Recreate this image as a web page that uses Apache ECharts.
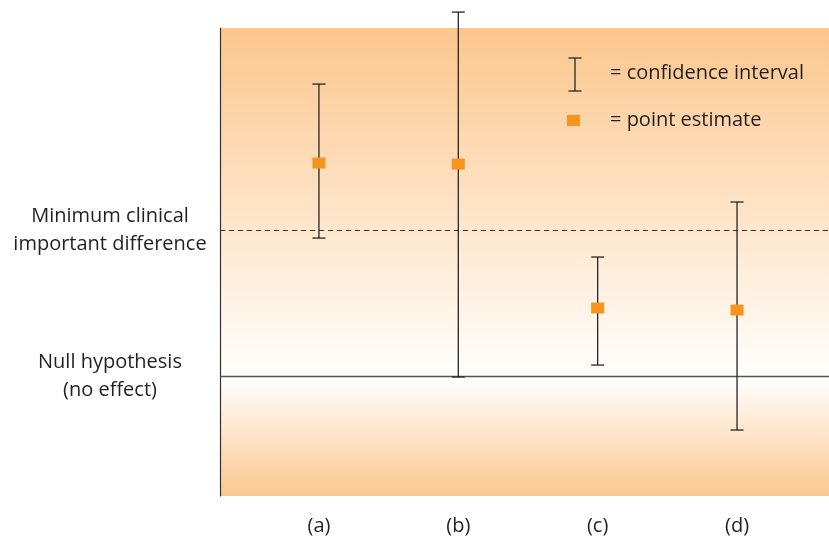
<!DOCTYPE html>
<html><head><meta charset="utf-8">
<script src="https://cdn.jsdelivr.net/npm/echarts@6/dist/echarts.min.js"></script>
<style>html,body{margin:0;padding:0;background:#fff}#c{width:829px;height:541px}</style>
</head><body><div id="c"></div>
<script>
// Data (units: minimum clinically important difference = 1, null = 0)
const categories = ['(a)', '(b)', '(c)', '(d)'];
const catPos = [1, 2, 3, 4];
const pointEstimate = [1.459, 1.452, 0.466, 0.452];
const ciLower = [0.945, -0.007, 0.075, -0.370];
const ciUpper = [2.000, 2.493, 0.815, 1.192];
const mcidValue = 1;
const nullValue = 0;
const refLabels = ['Minimum clinical\nimportant difference', 'Null hypothesis\n(no effect)'];
const legendTexts = ['= confidence interval', '= point estimate'];

const yMin = -0.822, yMax = 2.384;
const FONT = '"Open Sans", "Noto Sans", sans-serif';
const textColor = '#231f20';

const seriesData = catPos.map((x, i) => [x, pointEstimate[i], ciLower[i], ciUpper[i]]);

const chart = echarts.init(document.getElementById('c'), null, {renderer: 'canvas'});
const nullOffset = (yMax - nullValue) / (yMax - yMin);

chart.setOption({
  animation: false,
  grid: {
    left: 220, right: 0, top: 28, bottom: 45, show: true, borderWidth: 0,
    backgroundColor: {
      type: 'linear', x: 0, y: 0, x2: 0, y2: 1,
      colorStops: [
        {offset: 0, color: '#fcc68d'},
        {offset: nullOffset - 0.01, color: '#fffefb'},
        {offset: nullOffset, color: '#ffffff'},
        {offset: 1, color: '#fcc790'}
      ]
    }
  },
  xAxis: {
    type: 'value', min: 0.29, max: 4.66,
    axisLine: {show: false}, axisTick: {show: false}, splitLine: {show: false},
    axisLabel: {
      customValues: catPos,
      formatter: v => categories[catPos.indexOf(v)] || '',
      color: textColor, fontSize: 20, fontFamily: FONT, margin: 20
    }
  },
  yAxis: {
    type: 'value', min: yMin, max: yMax,
    axisLine: {show: true, lineStyle: {color: '#333', width: 1.2}},
    axisTick: {show: false}, splitLine: {show: false},
    axisLabel: {
      customValues: [mcidValue, nullValue],
      formatter: v => v === mcidValue ? refLabels[0] : refLabels[1],
      color: textColor, fontSize: 20, fontFamily: FONT,
      align: 'center', verticalAlign: 'middle', lineHeight: 28, margin: 110
    }
  },
  series: [{
    type: 'custom',
    clip: false,
    data: seriesData,
    renderItem: (params, api) => {
      const x = api.value(0);
      const pt = api.coord([x, api.value(1)]);
      const lo = api.coord([x, api.value(2)]);
      const hi = api.coord([x, api.value(3)]);
      const cap = 6.5;
      const ls = {stroke: '#262626', lineWidth: 1.3};
      return {
        type: 'group',
        children: [
          {type: 'line', shape: {x1: lo[0], y1: lo[1], x2: hi[0], y2: hi[1]}, style: ls},
          {type: 'line', shape: {x1: hi[0] - cap, y1: hi[1], x2: hi[0] + cap, y2: hi[1]}, style: ls},
          {type: 'line', shape: {x1: lo[0] - cap, y1: lo[1], x2: lo[0] + cap, y2: lo[1]}, style: ls},
          {type: 'rect', shape: {x: pt[0] - 6.5, y: pt[1] - 5.5, width: 13, height: 11}, style: {fill: '#f7941d'}}
        ]
      };
    },
    markLine: {
      silent: true, symbol: 'none', label: {show: false},
      data: [
        {yAxis: mcidValue, lineStyle: {color: '#333', type: [5, 4], width: 1.1}},
        {yAxis: nullValue, lineStyle: {color: '#555', type: 'solid', width: 1.4}}
      ]
    },
    z: 5
  }],
  graphic: [
    {type: 'line', shape: {x1: 575, y1: 58, x2: 575, y2: 91}, style: {stroke: '#262626', lineWidth: 1.3}},
    {type: 'line', shape: {x1: 568.5, y1: 58, x2: 581.5, y2: 58}, style: {stroke: '#262626', lineWidth: 1.3}},
    {type: 'line', shape: {x1: 568.5, y1: 91, x2: 581.5, y2: 91}, style: {stroke: '#262626', lineWidth: 1.3}},
    {type: 'text', x: 610, y: 73, style: {text: legendTexts[0], fill: textColor, font: '20px ' + FONT, verticalAlign: 'middle'}},
    {type: 'rect', shape: {x: 567, y: 115, width: 13, height: 11}, style: {fill: '#f7941d'}},
    {type: 'text', x: 610, y: 120, style: {text: legendTexts[1], fill: textColor, font: '20px ' + FONT, verticalAlign: 'middle'}}
  ]
});
</script></body></html>
